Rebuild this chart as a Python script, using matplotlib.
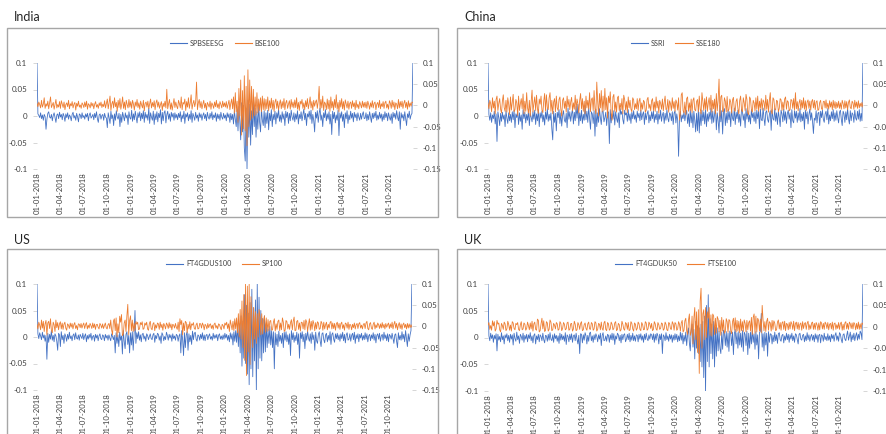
import numpy as np
import pandas as pd
import matplotlib
matplotlib.use("Agg")
import matplotlib.pyplot as plt
import matplotlib.dates as mdates
from matplotlib.lines import Line2D
from matplotlib.patches import Rectangle
from matplotlib.ticker import FuncFormatter

plt.rcParams['font.family'] = ['Lato', 'DejaVu Sans']

# twice-weekly returns, in thousandths (per mille)
# one row = one quarter (26 points)
india_esg = [
    100, 4, 1, -3, 6, -5, 2, -8, 3, -1, -25, -6, 5, 8, -2, -4, 3, -9, 1, 6, -3, -12, 2, 4, -5, 7,
    -2, 3, -7, 5, 0, -10, 4, -3, 6, -6, 2, -1, -9, 3, 7, -4, 1, -8, 5, -2, -11, 4, 2, -5, 6, -3,
    1, -6, 4, -2, 5, -9, 2, 6, -4, -1, 3, -7, 5, -3, 8, -5, -12, 2, 4, -6, 1, 3, -8, 5, -2, -4,
    -22, 6, -3, -14, 9, -5, 2, -18, 4, -8, 10, -2, -6, 5, -20, 3, -12, 7, -1, -9, 6, -4, 2, -16, 8, -3,
    -6, 11, -10, 4, -7, 9, -2, -13, 6, -3, 8, -9, 5, -5, 10, -12, 7, -4, 3, -8, 15, -14, 6, -2, -8, 9,
    -16, 4, -7, 8, -11, 5, -3, 12, -15, 7, -9, 6, 10, -13, 2, 9, -6, 4, -10, 7, -2, 5, -8, 6, -4, 3,
    -7, 5, -3, 8, -11, 2, -5, 9, -14, 4, -2, 6, -9, 3, -6, 10, -12, 5, -1, -8, 7, -4, 2, -10, 6, -3,
    4, -8, 1, 6, -5, 3, -9, 7, -2, -6, 5, -4, 8, -7, 2, -3, 6, -10, 4, -5, 3, -8, 7, -2, -6, 5,
    -4, 2, -9, 6, -3, 4, -12, 5, -7, 3, -15, 10, -6, -20, 12, -28, 18, -10, -45, 25, -30, 20, -60, -85, 15, -100,
    30, -40, 22, -55, 10, -35, 28, -20, 15, -40, 8, -25, 20, -12, -30, 14, -8, -18, 10, -22, 6, -14, 11, -26, 5, -9,
    12, -20, 3, -7, 9, -15, 6, -4, 13, -10, 2, -12, 8, -6, 4, -18, 9, -3, 7, -14, 5, -9, 11, -2, -8, 6,
    -11, 4, -6, 10, -15, 3, -5, 8, -9, 2, 13, -7, 5, -18, 4, -2, 9, -6, 11, -14, 3, -8, -30, 7, -4, 10,
    -12, 5, 15, -8, 2, -20, 6, -3, 12, -9, 4, -6, 8, -15, 3, -35, 9, -5, 7, -13, 2, -8, 11, -37, 6, -4,
    8, -10, 3, -22, 6, -5, 10, -14, 2, -7, 9, -4, 5, -11, 7, -3, 4, -9, 6, -2, -8, 5, -6, 3, 8, -5,
    -4, 6, -9, 3, -7, 8, -2, -12, 5, -5, 6, -3, 9, -8, 2, -6, 7, -4, 4, -10, 3, -7, 8, -3, 5, -9,
    6, -2, -8, 4, -14, 7, -3, 5, -6, 10, -2, -9, 8, -25, 6, -4, 3, -9, 8, -5, -18, 4, -3, 9, -6, 2, 5, 100]
india_bse = [
    5, -3, 8, 2, -6, 12, -4, 3, 18, -7, 4, -2, 10, -8, 6, 20, -5, 1, 7, -9, 3, 14, -6, 2, -4, 9,
    -7, 11, 3, -5, 8, -10, 2, 6, -3, 12, -8, 4, -1, 9, -6, 3, 7, -11, 5, -2, 10, -4, 1, -7, 6, 2,
    -5, 8, -3, 10, -9, 4, 1, -6, 7, -2, 5, -8, 3, 9, -4, 2, -7, 6, -1, 8, -5, 3, -3, 11, -6, 4,
    15, -8, 6, 22, -12, 4, 10, -6, 18, -3, 7, -14, 12, -5, 16, -9, 3, 20, -7, 8, -10, 12, 2, -6, 14, -4,
    9, -7, 12, 3, -11, 8, -2, 14, -5, 6, -9, 10, 1, -6, 12, -13, 5, 8, -4, 10, -8, 3, 15, -6, 7, -3,
    11, -10, 6, 13, -4, 8, -7, 2, 9, -12, 5, -3, 10, -6, 38, -8, 4, 14, -9, 6, -11, 3, 16, -5, 8, -2,
    -8, 12, 4, -6, 20, -10, 7, 3, 15, -12, 9, -4, 18, -7, 6, 25, -9, 4, 12, -3, 8, 55, -10, 6, 14, -5,
    9, -8, 3, 12, -6, 5, -11, 7, 2, -4, 10, -9, 6, 1, -7, 8, -3, 12, -5, 4, -8, 9, 2, -6, 10, -3,
    6, -4, 9, -7, 3, 12, -10, 5, 15, -8, 20, -18, 30, -15, 10, -40, 40, -25, 60, -70, 35, -55, 70, -60, 45, -95,
    84, -50, 60, -35, 45, -30, 38, -25, 20, -22, 30, -18, 15, -12, 18, -15, 22, -10, 16, -12, 14, -8, 20, -13, 11, -6,
    17, -9, 12, -14, 8, 15, -7, 10, -11, 4, 13, -8, 9, -5, 16, -10, 6, 12, -7, 3, 11, -9, 14, -4, 8, -6,
    13, -5, 18, -9, 7, -12, 10, 3, 14, -7, 6, -10, 11, -3, 16, -8, 5, 20, -6, 9, -11, 12, -2, 8, 13, -7,
    10, 45, -9, 14, -6, 22, -12, 8, 4, -10, 15, -8, 12, -14, 20, -6, 9, -11, 14, -5, 25, -9, 7, -15, 12, -4,
    16, -8, 9, -11, 13, 4, -6, 10, -9, 5, 8, -7, 11, -3, 6, -10, 12, -5, 3, -8, 9, 2, -6, 10, -4, 7,
    -5, 8, -7, 10, 2, -9, 6, -4, 11, -6, 5, 8, -10, 3, 7, -5, 12, -8, 4, -3, 9, -7, 6, 10, -6, 3,
    -9, 11, 5, -7, 12, -4, 8, -10, 6, 3, -8, 14, -6, 9, -3, 10, -7, 5, 12, -5, 7, -9, 11, -4, 6, -2, 8, 7]

china_ssri = [
    100, 3, -8, 6, -12, 2, -5, 9, -15, 4, -48, 8, -3, -18, 5, -10, 7, -6, 2, -20, 10, -4, -14, 6, -9, 3,
    -12, 8, -7, 11, -22, 4, -3, 9, -16, 6, -10, 2, -25, 12, -5, 7, -13, 3, -8, 10, -18, 5, -2, -11, 8, -6,
    11, -16, 4, -9, 12, -20, 6, -4, 9, -11, 2, -17, 8, -6, 14, -10, 3, -8, 6, -24, -45, 9, -12, 5, -28, 7,
    -3, 12, -14, 6, -19, 2, 10, -8, -12, 5, -22, 15, -6, 8, -10, 4, 13, -15, 7, -9, 18, -4, 22, -18, 6, -9,
    11, -14, 3, -8, 20, -7, 9, -12, 16, -5, -25, 8, 4, -14, 10, -38, 13, -20, 6, -12, 14, -3, -16, 8, 10, -11,
    -3, 7, -18, 5, 8, -52, 12, -13, 4, -6, 10, -17, 8, -4, -12, 6, -22, 14, 3, 9, -7, -15, 11, 2, 6, -10,
    12, -8, 4, -14, 7, -5, 10, -6, 2, -12, 9, -3, 5, -9, 11, -7, 3, 8, -16, 6, -7, 4, 10, -13, 2, -9,
    8, -5, 10, -12, 3, -7, 9, -15, 4, -6, 11, -10, 2, 7, -14, 5, -8, 12, -4, -11, 6, 3, -9, 8, -16, 5,
    10, -13, 4, -8, -76, -6, 9, -11, 2, -5, 8, -9, 3, 11, -14, 4, -20, 12, -13, 6, -22, 9, -8, -30, 5, -28,
    14, -32, 7, -18, 11, -9, 8, -15, 12, -20, 4, -10, 7, -6, 15, -14, 9, -12, 3, 18, -26, 6, -9, -32, 20, -11,
    10, -34, 8, 14, -18, 5, -13, 11, -7, 8, -20, 12, -4, -9, 15, -16, 7, -5, 11, -12, 3, -19, 13, 9, -8, 4,
    -22, 14, -6, 10, -11, 2, -15, 12, -3, 6, -10, 8, -14, 11, -5, 9, -24, 13, -7, -9, 15, -4, -18, 7, 10, -6,
    -12, 3, 10, -27, 12, -5, -8, 14, -10, 6, -16, 9, -3, -20, 11, 4, -11, 13, -8, 8, -14, 5, 11, -6, 6, -22,
    12, -9, -13, 10, -4, 9, -12, 6, -8, 14, -11, 4, -9, 7, -25, 11, -5, 8, -15, 3, 13, -8, 6, -10, -33, -4,
    -8, 10, -13, 5, 7, -18, 9, -3, 11, -6, -12, 4, 9, -7, 14, -15, 2, -9, 8, -5, 12, -10, 6, -8, 10, -3,
    -13, 7, 11, -6, -18, 9, 4, -12, 8, -7, 14, -5, -15, 10, -9, 6, 3, -12, 11, -4, -8, 9, -6, 12, -10, 5, -9, 100]
china_sse = [
    6, -8, 12, 4, -15, 18, -6, 10, -20, 14, 22, -12, 5, 16, -9, -18, 10, 25, -5, -14, 12, -16, 18, 3, -22, 20,
    -11, 8, 26, -15, -10, 14, 6, -24, 22, -12, 4, 16, -8, 27, -20, 10, -14, 30, -6, -18, 12, -25, 8, 36, -16, 5,
    20, -12, 24, -8, -19, 15, 3, 22, -11, -17, 10, 28, -13, 25, -5, -10, 18, 30, -14, 12, -20, 8, 16, -15, 22, -6,
    -12, 14, 20, -9, -25, 12, 18, -7, 10, -16, 22, -4, 14, -10, 8, 19, -13, 6, -9, 24, -11, 15, 4, -18, 12, 28,
    -8, 16, -14, 10, -20, 22, -6, 12, -9, 30, -15, 14, 18, -12, 35, -8, -20, 55, 10, -25, 28, -6, 35, -15, 22, -12,
    40, -10, 18, -30, 22, 6, 32, -18, -35, 20, 26, -14, 8, -16, 18, 22, -12, 5, -10, 16, -20, 24, 14, -11, 9, -17,
    20, -6, 12, -9, -15, 18, 13, -10, 4, -8, 16, -12, 10, 17, -14, 6, -9, 12, 8, -16, -11, 14, 19, -7, 3, -13,
    11, 16, -12, 8, -14, 20, -6, 10, -18, 12, 5, -9, 15, -13, 7, 22, -10, -8, 14, -16, 11, 4, -12, 18, -7, 9,
    -14, 13, 6, -11, 18, -35, -20, 25, 30, -12, -18, 8, -22, 16, 20, -14, 6, -12, 15, -17, 12, 18, -10, -13, 9, 14,
    -15, 22, -8, -20, 30, 10, -12, 16, -9, 20, -14, 6, 18, -10, 24, -16, 12, -8, 15, -20, 28, -13, 12, 62, -25, 20,
    24, -15, -12, 18, 10, -16, 21, -14, -9, 15, 8, -18, 13, 19, -11, -14, 10, 16, -8, -20, 12, 22, -10, -15, 18, 6,
    -12, 26, 14, -18, -22, 20, 15, -10, -16, 12, 6, -13, 18, -9, 22, -14, 10, -7, 16, -11, 13, 8, -12, 24, -9, 14,
    -16, 12, 30, -13, -20, 18, 14, -9, -11, 12, 10, -15, -7, 16, 13, -12, 8, -10, 15, 20, -9, 11, 8, -13, -10, 14,
    12, -7, 16, -11, 30, -8, 9, -13, 6, 14, -10, 12, -6, 18, -9, 11, -12, 8, 13, -7, 10, -11, 9, 14, -6, 12,
    -10, 8, 11, -12, -9, 7, 12, -8, -10, 9, 10, -6, 13, -7, 5, -9, 11, -4, 8, -10, 12, -6, 9, -8, 7, -5,
    10, -7, 6, -9, 12, 4, -8, 11, -6, 9, -10, 7, 13, -5, -8, 10, 6, -9, 12, -4, 8, -7, 11, -6, 5, -3, 7, -4]

us_esg = [
    100, 6, -3, 8, 2, -5, 9, -2, 4, -8, 3, -42, 7, -10, 5, -4, 12, -6, 3, -9, 6, 2, -8, -25, 7, 4,
    -18, 10, -5, 3, -12, 6, 1, -8, 5, -4, 9, -3, 2, -7, 3, 6, -5, 8, -2, -4, 4, -6, 5, 1, -3, 7,
    -5, 2, 6, -9, 3, -4, 5, -2, 7, -6, 1, 3, -8, 5, -2, 4, -7, 2, 6, -3, -5, 4, 2, -7, 5, -2,
    3, -6, 4, -2, -7, 6, 1, -5, 3, -30, 8, -12, 4, -18, 9, -6, 2, -32, 12, -8, -22, 5, 10, -14, 3, -30,
    8, -15, 10, -25, 6, 50, -12, 8, -3, 10, -6, 4, -9, 5, 7, -4, 2, -8, 6, 3, -5, 1, 6, -3, -5, 4,
    7, -10, 3, -3, 7, 5, -6, 2, -12, 8, 4, -7, 1, -5, 9, 3, -6, 5, -2, 4, -8, 6, -3, 2, -6, 5,
    3, -8, 2, 6, -30, 12, -5, -35, 8, -20, 4, 10, -25, 6, -9, 3, -14, 11, -5, 7, 9, -4, -8, 4, 2, -6,
    5, -3, 8, -6, 4, -7, 3, 5, -5, 2, 6, -4, 1, -6, 7, -3, 4, -2, 5, -7, 3, 6, -4, 2, -5, 4,
    -4, 7, -2, 5, -6, 3, -9, 8, -4, 6, -15, 10, -8, 12, -10, 20, -18, 25, -30, 40, -55, 30, -40, 80, -50, 60,
    -70, 45, -90, 65, -60, 90, -75, 55, -45, 70, -100, 100, -60, 75, -40, 50, -45, 35, -30, 40, -28, 25, -20, 15, -12, 20,
    -15, 12, -20, 10, -60, 8, -15, 5, -18, 11, -8, 3, -12, 7, -20, 9, -6, 10, -9, 4, -14, 6, -35, 12, -5, 8,
    -10, 3, -7, 9, -14, 6, -40, 8, -3, 10, -9, 5, -22, 7, -6, 11, -2, -8, 6, -12, 9, -5, 4, -25, 9, -7,
    -12, 5, 10, -7, -18, 6, 8, -5, -11, 4, 7, -9, 3, -6, 10, -14, 5, 8, -4, -10, 6, -3, 7, -5, 4, -8,
    6, -3, 9, -7, 5, -11, 4, 8, -6, -4, 6, -8, 3, 7, -5, 9, -12, 4, -3, 6, -9, 5, -2, 7, -6, 3,
    -5, 8, -4, 6, -9, 2, 5, -7, 4, -3, 8, -6, 5, -11, 3, 6, -4, 7, -8, 2, 5, -6, 9, -3, 4, -7,
    6, -9, 5, 2, -4, 7, -3, -12, 4, 6, -8, -20, 8, -5, 3, -6, 10, -4, 5, -9, 12, -3, -18, 6, -8, 4, 12, 100]
us_sp = [
    5, -6, 10, 3, -8, 15, -4, 12, -12, 6, 14, -20, 8, 12, -5, 18, -9, -15, 10, 4, -12, 15, -3, 9, -8, 6,
    11, -6, 8, -7, 5, 10, -4, -9, 6, 3, -5, 8, -2, 7, -6, 4, 9, -5, 2, -8, 6, 5, -3, 7, -4, 3,
    8, -5, 4, 9, -6, 3, -4, 7, 2, -5, 8, -3, 6, -7, 4, 5, -2, -6, 7, 3, -4, 6, -5, 2, 8, -3,
    -6, 4, 7, -5, 15, -8, -20, 12, 18, -10, 20, -25, 6, -15, 24, 10, 28, -22, -18, 8, 15, -12, 25, 52, -20, 14,
    25, -10, 15, -12, 8, -10, 12, 5, 10, -8, -6, 9, 4, 11, -7, -5, 8, 3, 10, -6, -9, 7, 12, -5, -8, 6,
    9, -10, 4, -4, 8, 6, -7, 10, -3, 5, -9, 7, 2, -6, 8, 4, -5, 9, -3, 6, -8, 5, 3, -4, 7, -2,
    -7, 10, -12, 18, 4, 14, -20, 8, -10, 12, 9, -15, 5, -6, 11, -8, 6, 3, 9, -5, -7, 4, 8, -6, -5, 7,
    6, -4, 8, 3, -8, 5, 2, -6, 7, -3, 4, 6, -5, 3, -7, 5, 8, -4, 2, -6, 6, 4, -3, -8, 5, 2,
    -6, 8, 3, 10, -5, 6, -12, 15, 4, -8, 12, -10, 18, -6, 20, -15, 30, -25, 40, -30, 60, -50, 75, -80, 100, -116,
    95, -60, 100, -90, 70, 20, -50, 45, -30, 35, -40, 30, -25, 40, 22, -20, 30, -18, 15, 25, -14, 20, -12, 16, -10, 12,
    14, -9, -8, 10, 18, -11, 6, -7, 12, 15, -10, 8, -8, 20, 10, -12, -9, 14, 11, -6, 5, -7, 9, 16, -8, 12,
    22, -10, -9, 12, 14, -7, 8, -11, 10, 9, -6, 14, -8, 16, 10, -12, 5, 18, -9, 12, -7, 14, 6, -10, 9, -6,
    11, 8, -7, -5, 12, 7, -9, 10, -6, 4, 10, -8, 5, -4, 9, 12, -6, 8, -5, 7, -9, 6, 10, -4, 7, -7,
    6, 10, -5, 4, -9, 8, 6, -4, 10, -7, 5, 3, -8, 5, -3, 8, -6, 4, 7, -5, 6, 9, -4, 3, -6, 5,
    7, -5, 8, 12, -5, -8, 6, 9, -4, -7, 5, 10, -6, 4, -3, 8, 4, -5, 6, -4, 9, -3, 5, -6, 7, -2,
    4, 8, -5, 6, -3, 10, -6, 5, 12, -4, 7, -8, 3, 9, -5, 6, -7, 4, 8, -3, 5, -6, 7, -4, 6, -3, 4, -2]

uk_esg = [
    100, 3, -6, 8, -2, 5, -9, 4, -3, 7, -25, 6, -5, 2, -8, 9, -4, 3, -12, 5, -1, 7, -6, 4, -9, 6,
    -3, 5, -14, 8, -2, -7, 10, -4, 3, -11, 6, 2, -5, 8, -9, 4, -3, 6, -8, 5, -2, 9, -6, 3, -10, 4,
    7, -12, 3, -4, 6, -8, 5, 2, -6, 8, -4, -10, 4, 3, -7, 6, -5, 9, -3, -6, 5, -9, 7, -2, 4, -7,
    3, -11, 8, -5, 6, -4, 3, -7, 9, -13, 5, 2, -8, 6, -4, 7, -9, 3, 5, -6, 8, -3, -12, 4, -30, 7,
    6, -10, 5, -5, 9, 3, -12, 4, -7, 8, 10, -6, 3, -9, 5, -4, 7, 2, -8, 5, -3, 8, -15, 4, 9, -6,
    -5, 3, -7, 6, 4, -9, 5, -4, 8, -5, 7, -13, 3, -3, 8, 5, -6, 4, -10, 6, -4, 5, 7, -8, -3, 6,
    -4, 8, -8, 4, -5, 8, -6, 3, -7, 5, 4, -8, 6, -3, 7, -5, 3, -9, 6, -4, 8, -2, -6, 5, -3, 7,
    5, -4, 7, -9, 6, -5, 8, 3, -12, 6, -4, 7, -30, 5, 2, -6, 9, -4, 3, -7, 6, -3, 5, -9, 4, -5,
    7, -4, 6, -8, 3, -6, 10, -5, 8, -12, 4, -7, 10, -15, 6, 18, -10, -25, 12, 25, -18, 15, -40, 30, -20, 22,
    -30, 18, -45, 25, -55, 30, -75, 40, -100, 60, -45, 80, -55, 35, -30, 25, -40, 30, -55, 20, -35, 18, -25, 12, -20, -30,
    10, -22, 14, 9, -15, 11, -18, 8, -26, 12, 6, -15, 10, -32, 7, 15, -12, 9, -20, 11, -14, 8, -18, 13, -26, 10,
    6, -15, 12, -32, 8, -20, 10, -12, 15, -9, 7, -22, 11, -14, 5, -40, 9, 12, 45, -18, 7, -25, 10, -14, 8, -35,
    11, -9, 7, 6, -12, 4, -8, 10, -6, 5, -11, 7, 9, -4, -7, 4, 6, -10, 3, -5, 8, -4, 6, -9, 5, -3,
    8, -6, 3, -9, 7, 5, -4, -12, 6, 8, -3, -5, 4, 6, -8, 3, -6, 9, -4, 5, -7, 2, 6, -5, 4, -8,
    7, -3, 5, -9, 4, 6, -10, 5, 3, -7, 8, -4, 2, -6, 7, -5, 3, -8, 6, -2, 5, -7, 4, 9, -5, 3,
    -7, 9, 6, -4, -10, 5, 7, -3, -6, 4, 12, -5, 3, 10, -8, 5, -4, 8, -6, 3, 9, -5, 6, -3, 12, 8, -4, 100]
uk_ftse = [
    4, 10, -6, 3, -8, 14, 2, 12, -10, -5, 15, 6, 9, -7, -12, 8, 3, -6, 11, 7, -9, -5, 13, 6, -8, 4,
    -10, 12, 9, -4, -7, 8, 5, 10, -6, -9, 5, 12, -7, -5, 9, 6, -8, -4, 11, 3, -7, 9, -5, 13, -10, 7,
    11, -6, -8, 18, 15, -12, -9, 7, 20, -5, 14, -11, -8, 12, 9, -10, -6, 16, 11, -9, -7, 8, 4, -5, 10, 7,
    -8, -6, 12, 8, -9, -4, 10, 6, -7, -5, 9, 11, -8, -6, 7, 8, -10, -5, 13, 6, -9, -7, 10, 5, -6, 8,
    12, -9, -7, 5, 9, -4, -8, 7, 11, -5, -6, 10, 7, -8, -5, 12, 9, -10, -6, 8, 6, -7, 11, -4, -8, 9,
    13, -6, -9, 10, 7, -8, -5, 11, 6, -7, -4, 9, 12, -9, -6, 8, 5, -10, -7, 13, 6, -5, -8, 10, 7, -6,
    10, -9, -7, 12, 8, -5, -10, 9, 6, -8, -4, 11, 7, -6, -9, 10, 5, -7, -6, 12, 9, -8, -5, 11, 6, -4,
    8, -9, -6, 12, 7, -5, -8, 10, 5, -6, -4, 9, 7, -8, -5, 11, 6, -7, -9, 10, 8, -5, -6, 12, 7, -8,
    10, 7, -8, -5, 12, 6, -10, 9, 15, -12, -8, 14, 20, -10, -18, 15, 30, -20, -12, 25, -40, 20, 45, -30, 35, -60,
    40, -109, 60, 90, -50, 30, 40, -30, 45, -25, 35, 20, 45, -20, 28, -22, 30, 25, -18, 20, -15, 24, 18, -12, 15, -20,
    22, -10, 16, -15, -11, 19, 12, -13, 17, 14, -9, -16, 12, 20, -8, 21, -12, 15, -10, 13, -14, 18, -9, 12, -11, 16,
    8, -12, 15, -7, 10, 14, -10, 22, -18, 22, 30, -15, 25, -12, 20, 15, -10, 18, -14, 50, 15, -9, 12, -11, 13, 20,
    -8, 12, 9, -10, 15, -6, 14, 8, -9, -7, 11, 16, -5, 10, -8, 9, 12, -6, 13, -9, 8, 6, -7, 10, -5, 12,
    7, -6, 13, -9, 8, 11, -5, 10, -7, 6, 9, -8, 12, -4, 7, 10, -6, 8, 13, -7, 5, -5, 9, 11, -6, 8,
    -6, 10, 5, -8, 9, -7, 12, 9, -5, 8, -6, 11, 7, -4, 10, -7, 6, 8, -5, 11, -8, 7, 9, -6, 5, -4,
    10, -6, 8, 11, -8, 6, -7, 9, 12, -5, 8, -6, 11, 7, -4, 9, -5, 10, 6, -7, 8, -5, 11, -6, 7, -5, 9, 6]

panels = [
    ("India", "SPBSEESG", "BSE100", india_esg, india_bse),
    ("China", "SSRI", "SSE180", china_ssri, china_sse),
    ("US", "FT4GDUS100", "SP100", us_esg, us_sp),
    ("UK", "FT4GDUK50", "FTSE100", uk_esg, uk_ftse),
]

BLUE = '#4472C4'
ORANGE = '#ED7D31'
W, H = 886, 434

fig = plt.figure(figsize=(W / 100, H / 100), dpi=100)

# pixel boxes: box x0, y0, x1, y1, axes left, right, top, bottom, title y
layout = [
    (7, 28, 438, 217, 37, 413, 63, 169, 17),
    (457, 28, 900, 217, 488, 863, 63, 169, 17),
    (7, 249, 438, 450, 37, 412, 284, 390, 240),
    (457, 249, 900, 450, 488, 863, 284, 391, 240),
]

fmt = FuncFormatter(lambda v, p: '%g' % round(v, 3))
ticks = pd.date_range('2018-01-01', '2021-10-01', freq='QS')

for (title, n1, n2, s1, s2), (bx0, by0, bx1, by1, al, ar, at, ab, ty) in zip(panels, layout):
    fig.patches.append(Rectangle((bx0 / W, 1 - by1 / H), (bx1 - bx0) / W, (by1 - by0) / H,
                                 transform=fig.transFigure, fill=False,
                                 edgecolor='#a6a6a6', lw=1.0))
    fig.text((bx0 + 7) / W, 1 - ty / H, title, fontsize=9, color='#262626',
             ha='left', va='center')

    ax = fig.add_axes([al / W, 1 - ab / H, (ar - al) / W, (ab - at) / H])
    ax2 = ax.twinx()
    d1 = pd.date_range('2018-01-01', periods=len(s1), freq='84h')
    d2 = pd.date_range('2018-01-01', periods=len(s2), freq='84h')
    ax.plot(d1, np.array(s1) / 1000, color=BLUE, lw=0.6)
    ax2.plot(d2, np.array(s2) / 1000, color=ORANGE, lw=0.6)

    ax.set_ylim(-0.1, 0.1)
    ax.set_yticks([-0.1, -0.05, 0, 0.05, 0.1])
    ax2.set_ylim(-0.15, 0.1)
    ax2.set_yticks([-0.15, -0.1, -0.05, 0, 0.05, 0.1])
    ax.yaxis.set_major_formatter(fmt)
    ax2.yaxis.set_major_formatter(fmt)
    ax.set_xlim(pd.Timestamp('2018-01-01'), pd.Timestamp('2021-12-31'))
    ax.set_xticks(ticks)
    ax.xaxis.set_major_formatter(mdates.DateFormatter('%d-%m-%Y'))

    for a in (ax, ax2):
        for s in a.spines.values():
            s.set_visible(False)
        a.tick_params(axis='y', labelsize=5.8, labelcolor='#404040',
                      color='#d0d0d0', length=3, width=0.6, pad=4)
    ax.tick_params(axis='x', labelsize=5.6, labelcolor='#404040',
                   length=0, rotation=90, pad=2)

    handles = [Line2D([], [], color=BLUE, lw=0.8), Line2D([], [], color=ORANGE, lw=0.8)]
    ax.legend(handles, [n1, n2], loc='center',
              bbox_to_anchor=(0.5, 1 + 20 / (ab - at)),
              ncol=2, frameon=False, fontsize=5.2, handlelength=2.4,
              columnspacing=1.4, handletextpad=0.4, labelcolor='#404040')

fig.savefig('out.png', dpi=100)
